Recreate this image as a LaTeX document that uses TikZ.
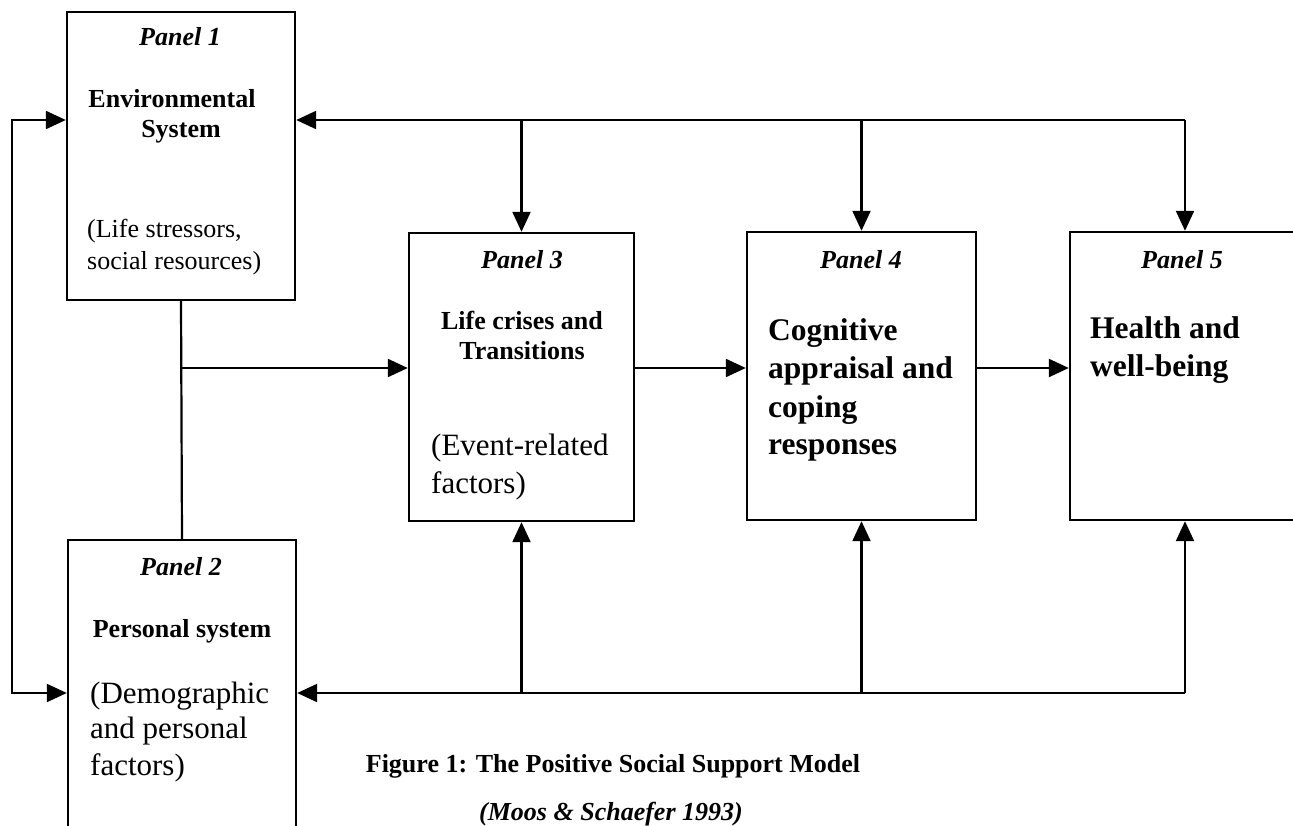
\documentclass[tikz,border=0pt]{standalone}
\usepackage{fontspec}
\setmainfont{Liberation Serif}
\usetikzlibrary{arrows.meta}
\begin{document}
\begin{tikzpicture}[x=1pt,y=-1pt,
  panel/.style={draw, line width=2.4pt, inner sep=0pt, minimum height=288pt},
  conn/.style={line width=2.2pt},
  arr/.style={conn, -{Triangle[length=20pt,width=18pt]}},
  darr/.style={conn, {Triangle[length=20pt,width=18pt]}-{Triangle[length=20pt,width=18pt]}},
  ctext/.style={anchor=base, inner sep=0pt},
  ltext/.style={anchor=base west, inner sep=0pt},
  plabel/.style={ctext, font=\fontsize{26}{30}\selectfont\bfseries\itshape},
  btitle/.style={font=\fontsize{26}{30}\selectfont\bfseries},
  bbig/.style={ltext, font=\fontsize{31.5}{36}\selectfont\bfseries},
  rmid/.style={ltext, font=\fontsize{26}{30}\selectfont},
  rbig/.style={ltext, font=\fontsize{31}{36}\selectfont},
]
\useasboundingbox (0,0) rectangle (1293,825);

% panels
\node[panel, minimum width=228pt] (p1) at (181,156) {};
\node[panel, minimum width=228pt, minimum height=305pt] (p2) at (182,692.5) {};
\node[panel, minimum width=225pt] (p3) at (521.5,377) {};
\node[panel, minimum width=229pt] (p4) at (861.5,376) {};
\node[panel, minimum width=230pt] (p5) at (1185,376) {};

% rows
\coordinate (toprow) at (0,120);
\coordinate (midrow) at (0,368);
\coordinate (botrow) at (0,693);
\coordinate (leftcol) at (12,0);

% top feedback
\draw[arr] (p5.north |- toprow) -- (p1.east |- toprow);
\draw[arr] (p3.north |- toprow) -- (p3.north);
\draw[arr] (p4.north |- toprow) -- (p4.north);
\draw[arr] (p5.north |- toprow) -- (p5.north);

% left loop
\draw[darr] (p1.west |- toprow) -| (leftcol |- botrow) -- (p2.west |- botrow);

% middle flow
\draw[conn] (p1.south) -- (p2.north);
\draw[arr] (p1.south |- midrow) -- (p3.west |- midrow);
\draw[arr] (p3.east |- midrow) -- (p4.west |- midrow);
\draw[arr] (p4.east |- midrow) -- (p5.west |- midrow);

% bottom feedback
\draw[arr] (p5.south |- botrow) -- (p2.east |- botrow);
\draw[arr] (p3.south |- botrow) -- (p3.south);
\draw[arr] (p4.south |- botrow) -- (p4.south);
\draw[arr] (p5.south |- botrow) -- (p5.south);

% Panel 1 text
\node[plabel] (p1lab) at (180,45) {Panel 1};
\node[ctext, btitle] (p1t1) at (172,107) {Environmental};
\node[ctext, btitle] (p1t2) at (181,137) {System};
\node[rmid] (p1d1) at (87,237) {(Life stressors,};
\node[rmid] (p1d2) at (87,269) {social resources)};

% Panel 2 text
\node[plabel] (p2lab) at (181,575) {Panel 2};
\node[ctext, btitle] (p2t1) at (182,637) {Personal system};
\node[rbig] (p2d1) at (90,703) {(Demographic};
\node[rbig] (p2d2) at (90,738) {and personal};
\node[rbig] (p2d3) at (90,775) {factors)};

% Panel 3 text
\node[plabel] (p3lab) at (522,268) {Panel 3};
\node[ctext, btitle] (p3t1) at (522,329) {Life crises and};
\node[ctext, btitle] (p3t2) at (522,359) {Transitions};
\node[rbig] (p3d1) at (431,455) {(Event-related};
\node[rbig] (p3d2) at (431,493) {factors)};

% Panel 4 text
\node[plabel] (p4lab) at (861,268) {Panel 4};
\node[bbig] (p4t1) at (768,340) {Cognitive};
\node[bbig] (p4t2) at (768,378) {appraisal and};
\node[bbig] (p4t3) at (768,417) {coping};
\node[bbig] (p4t4) at (768,454) {responses};

% Panel 5 text
\node[plabel] (p5lab) at (1182,268) {Panel 5};
\node[bbig] (p5t1) at (1090,338) {Health and};
\node[bbig] (p5t2) at (1090,376) {well-being};

% caption
\node[ctext, btitle] (cap1) at (613,772) {Figure 1: The Positive Social Support Model};
\node[ctext, font=\fontsize{26}{30}\selectfont\bfseries\itshape] (cap2) at (611,820) {(Moos \& Schaefer 1993)};
\end{tikzpicture}
\end{document}
